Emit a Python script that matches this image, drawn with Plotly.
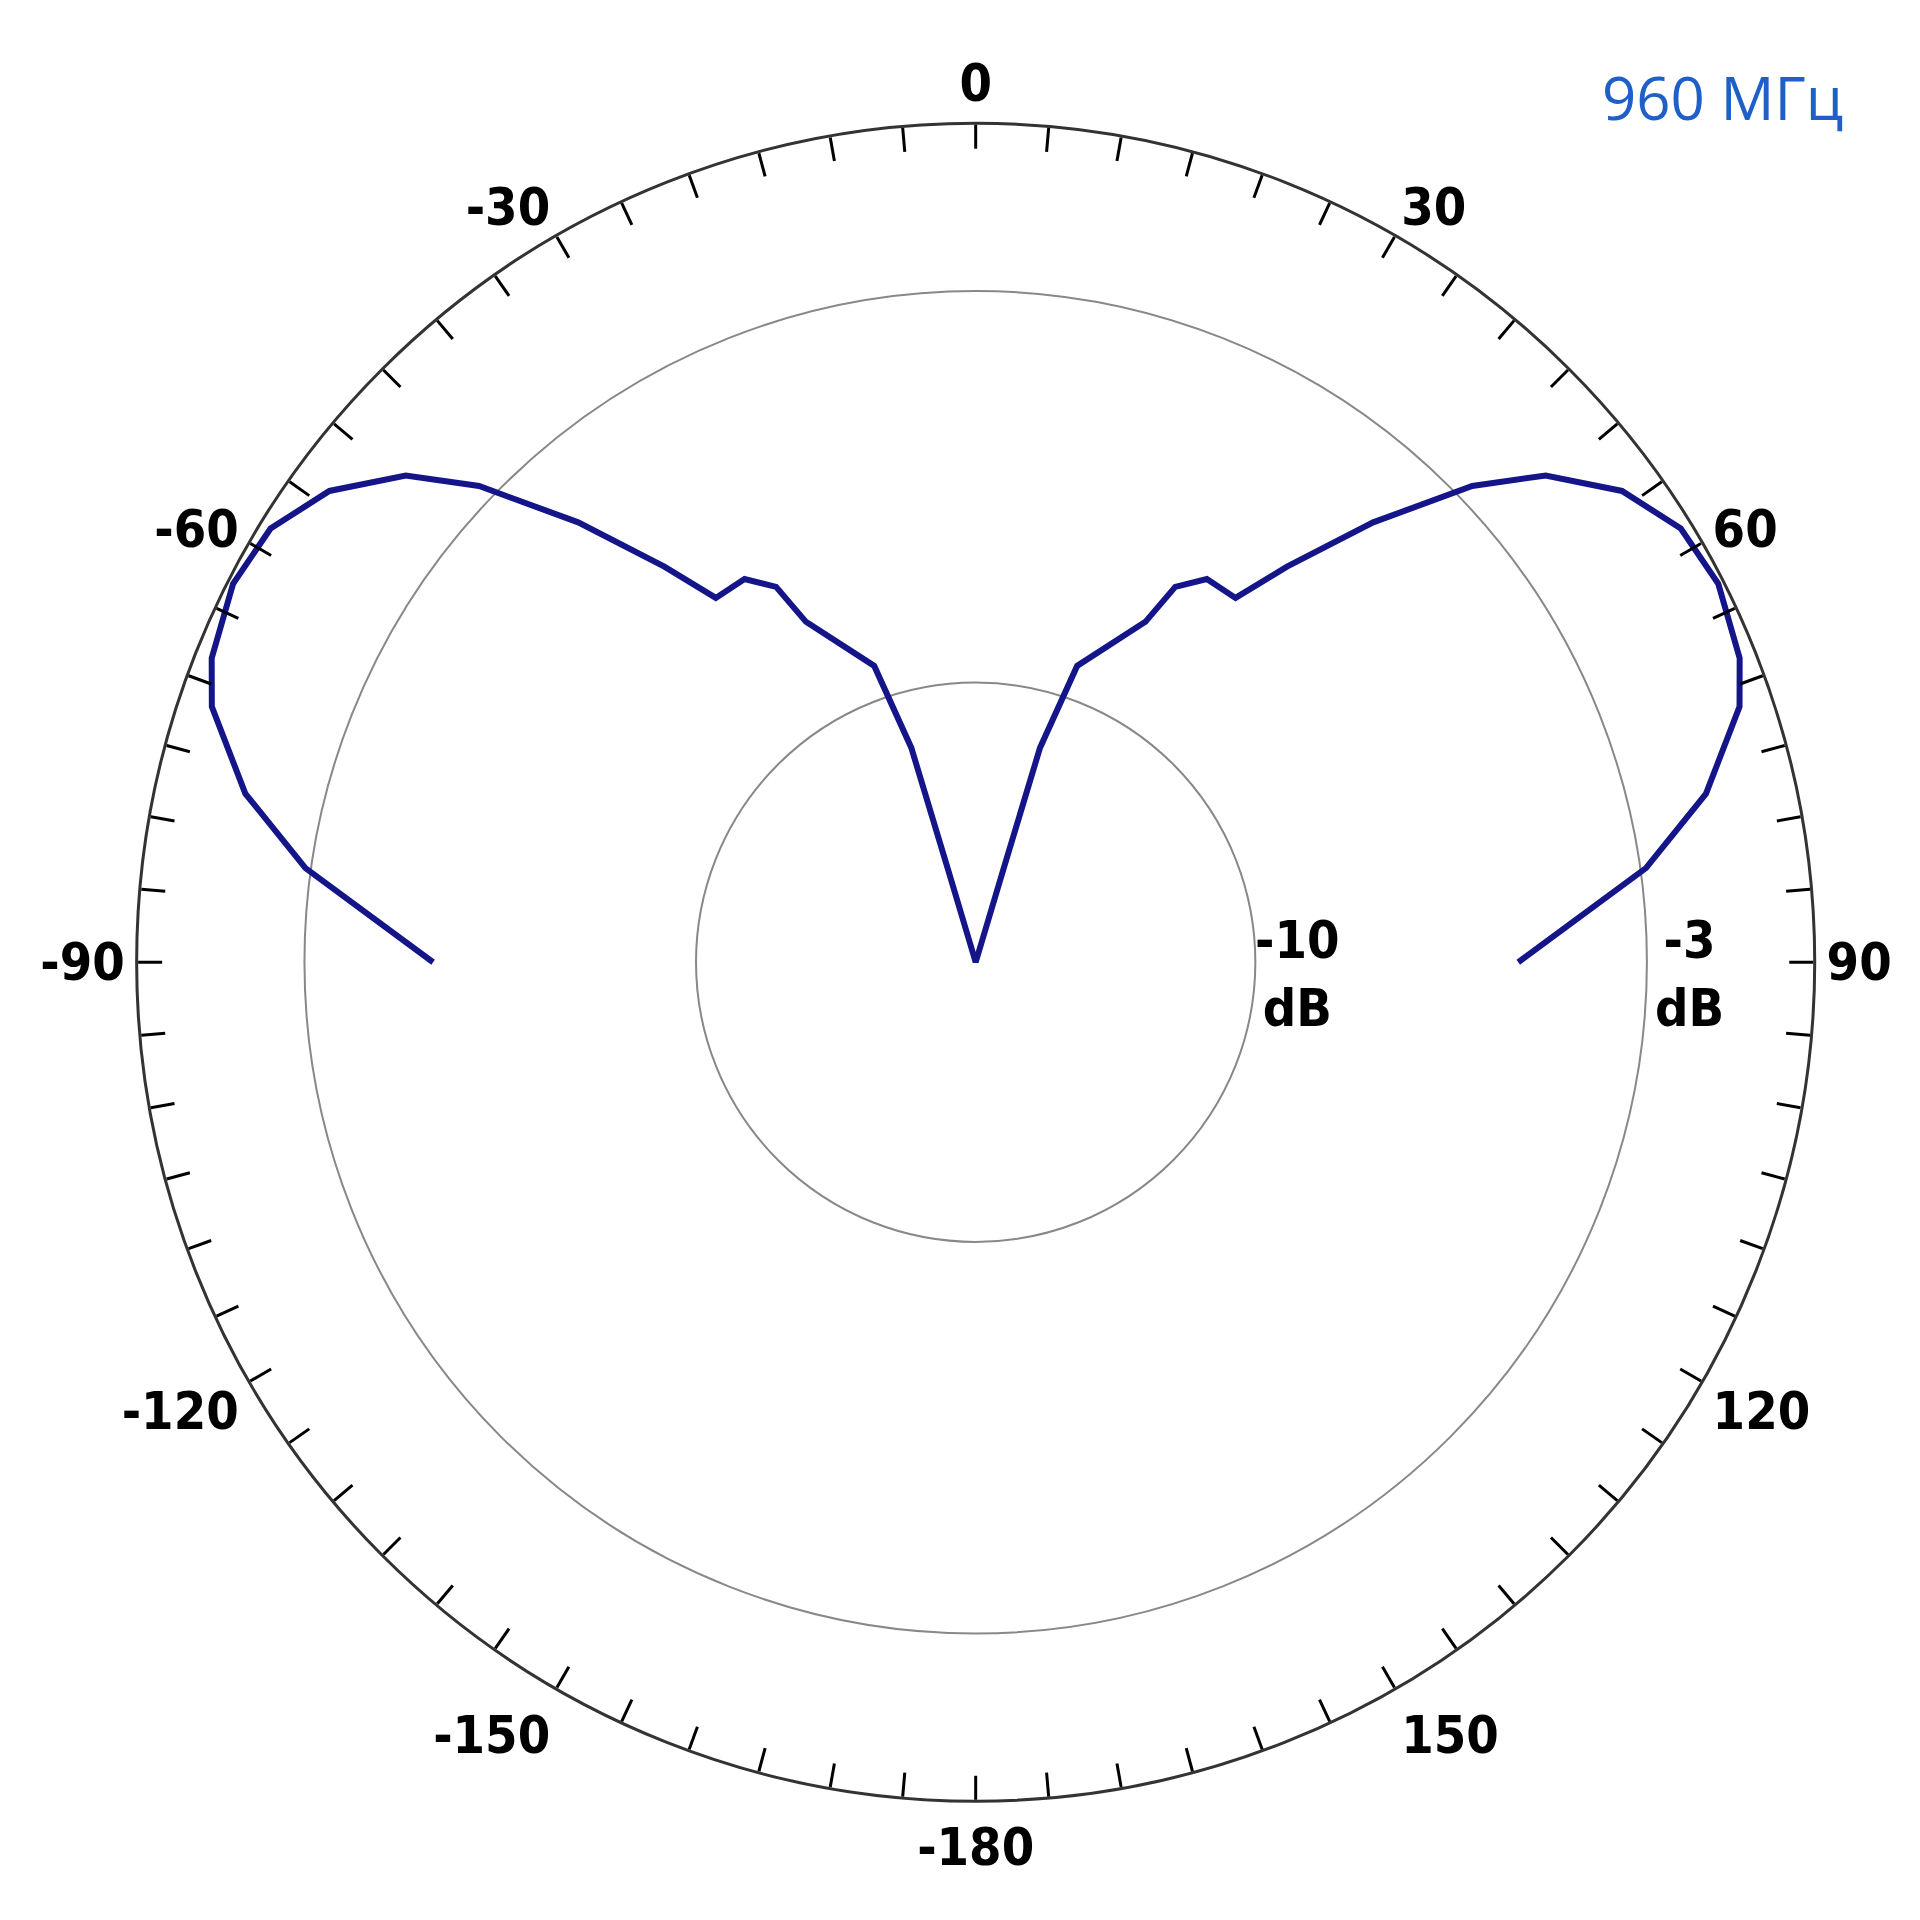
import plotly.graph_objects as go

# right half of the pattern (angle deg, level dB); left half is mirrored
angles_right = [90, 82, 77, 71.5, 68.3, 63, 58.4, 53.9, 49.5, 46.2, 42.1, 38.2, 35.5, 31.1, 28, 26.5, 18.9, 16.7, 16.6, 0]
levels_right = [-5.3, -2.9, -1.6, -0.6, -0.3, -0.1, -0.2, -0.7, -1.6, -2.7, -4.4, -6.0, -7.0, -7.0, -7.4, -8.2, -9.4, -11.0, -13.3, -15.0]

# full sweep -90 .. 0 .. 90
theta = [-a for a in angles_right] + angles_right[::-1][1:]
r = levels_right + levels_right[::-1][1:]

tick_vals = list(range(0, 360, 5))
tick_text = []
for v in tick_vals:
    if v % 30 == 0:
        tick_text.append(str(v) if v < 180 else str(v - 360))
    else:
        tick_text.append("")

fig = go.Figure()
fig.add_trace(go.Scatterpolar(theta=theta, r=r, mode="lines",
                              line=dict(color="#15158a", width=6), hoverinfo="skip"))

lab_font = dict(family="DejaVu Sans Condensed", size=52, color="black", weight="bold")
fig.update_layout(
    width=1920, height=1920, showlegend=False,
    paper_bgcolor="white", margin=dict(l=0, r=0, t=0, b=0),
    polar=dict(
        domain=dict(x=[0.067, 0.941], y=[0.066, 0.94]),
        bgcolor="white",
        angularaxis=dict(direction="clockwise", rotation=90,
                         tickmode="array", tickvals=tick_vals, ticktext=tick_text,
                         ticks="inside", ticklen=24, tickwidth=2.5, tickcolor="black",
                         showline=True, linecolor="#333", linewidth=3,
                         showgrid=False, tickfont=lab_font),
        radialaxis=dict(range=[-15, 0], tickmode="array", tickvals=[-10, -3],
                        showticklabels=False, ticks="", showline=False,
                        gridcolor="#888", gridwidth=1.5),
    ),
    annotations=[
        dict(text="-10<br>dB", x=0.695, y=0.497, xref="paper", yref="paper",
             showarrow=False, font=lab_font, align="center"),
        dict(text="-3<br>dB", x=0.895, y=0.497, xref="paper", yref="paper",
             showarrow=False, font=lab_font, align="center"),
        dict(text="960 МГц", x=0.957, y=0.976, xref="paper", yref="paper",
             showarrow=False, font=dict(family="Open Sans", size=60, color="#1f5fc8")),
    ],
)
fig.write_html("out.html")
